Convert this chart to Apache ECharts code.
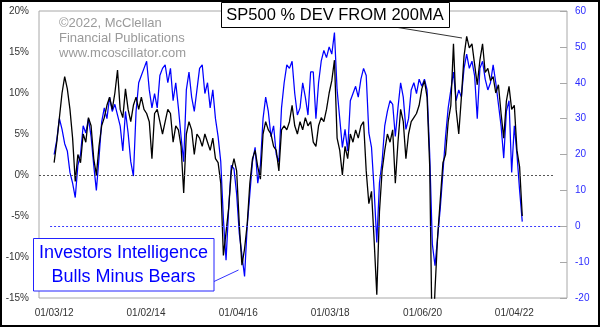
<!DOCTYPE html>
<html>
<head>
<meta charset="utf-8">
<script src="https://cdn.jsdelivr.net/npm/echarts@6/dist/echarts.min.js"></script>
<style>
  html, body { margin: 0; padding: 0; background: #fff; }
  #chart { width: 600px; height: 327px; }
</style>
</head>
<body>
<div id="chart"></div>
<script>
// S&P 500 % deviation from its 200-day moving average (left scale) against the
// Investors Intelligence bulls-minus-bears spread (right scale).
// Both series are sampled every three weeks, starting on the first session of 2012.
const sampleStart = '2012-01-03';
const sampleStepDays = 21;

// S&P 500 % above / below its 200-day MA
const spxDev = [
  // 2012
  1.5, 4.0, 7.0, 10.0, 12.0, 10.5, 8.0, 4.5, -0.8, 2.5, 1.5, 5.0, 4.0, 7.0, 6.0, 2.0, 0.0, 3.5,
  // 2013
  6.0, 7.0, 8.5, 9.5, 8.0, 10.0, 12.8, 8.0, 7.0, 10.5, 8.0, 6.5, 8.5, 9.5, 8.0, 9.5, 8.0,
  // 2014
  7.5, 6.5, 2.0, 7.5, 8.0, 6.5, 5.0, 6.5, 8.0, 7.5, 4.0, 6.0, 5.5, 3.5, -2.2, 5.0, 6.5, 5.5,
  // 2015
  2.5, 5.0, 4.5, 3.5, 5.0, 4.0, 3.0, 4.5, 2.0, 1.5, -1.0, -9.8, -7.0, -4.0, 0.5, 2.0, 0.5,
  // 2016
  -6.0, -11.0, -9.0, -6.0, -1.0, 2.0, 3.0, 1.0, -0.5, 5.0, 6.5, 5.5, 5.0, 3.5, 3.0, 0.5, 5.5,
  // 2017
  6.0, 5.5, 6.5, 8.5, 6.0, 5.0, 6.5, 5.5, 7.0, 6.0, 6.5, 4.0, 3.5, 6.0, 7.0, 6.5, 8.0, 10.0,
  // 2018
  11.5, 14.0, 4.5, 3.0, 0.0, 3.5, 2.0, 5.0, 4.0, 5.5, 4.5, 6.0, 6.5, 0.5, -3.5, -2.0, -8.0, -14.6,
  // 2019
  -4.5, 0.5, 3.0, 5.0, 4.0, 5.5, -1.0, 4.0, 8.0, 6.5, 2.0, 5.0, 6.5, 7.0, 7.5, 8.5, 10.5,
  // 2020
  11.5, 9.5, 1.0, -22.0, -14.0, -7.5, -3.0, 1.5, 2.5, 6.5, 8.5, 16.0, 8.0, 5.0, 9.5, 14.5, 16.9,
  // 2021
  15.5, 16.0, 13.5, 11.0, 14.0, 16.0, 12.5, 13.0, 11.5, 12.0, 10.0, 11.0, 7.5, 4.5, 9.0, 10.8, 8.0,
  // 2022
  8.5, 3.0, 1.0, -5.0
];

// Investors Intelligence: % bulls minus % bears
const iiBullsMinusBears = [
  // 2012
  20, 24, 30, 27, 23, 21, 15, 12, 8, 17, 20, 28, 26, 30, 25, 17, 10, 19,
  // 2013
  29, 33, 30, 36, 32, 34, 31, 28, 21, 32, 26, 18, 14, 32, 40, 42, 44,
  // 2014
  46, 38, 33, 37, 33, 42, 44, 45, 40, 44, 35, 40, 33, 25, 18, 38, 43, 36,
  // 2015
  32, 38, 44, 45, 37, 40, 33, 38, 30, 25, 18, 2, -9.5, 5, 17, 16, 9,
  // 2016
  -2, -8, -14, 0, 9, 18, 22, 12, 17, 30, 36, 32, 25, 28, 20, 18, 33,
  // 2017
  40, 45, 44, 46, 37, 31, 33, 40, 36, 31, 43, 43, 30, 40, 46, 49, 47, 50,
  // 2018
  48, 54, 38, 30, 22, 27, 21, 35, 37, 39, 36, 41, 44, 42, 26, 22, 10, -4.5,
  // 2019
  12, 18, 28, 32, 35, 34, 25, 33, 40, 36, 27, 30, 38, 40, 37, 41, 39,
  // 2020
  41, 38, 20, -5, -11, -3, 5, 15, 25, 33, 38, 43, 35, 38, 36, 44, 48,
  // 2021
  44, 46, 42, 30, 44, 46, 41, 38, 40, 45, 40, 34, 28, 19, 32, 35, 15,
  // 2022
  28, 20, 10, 1.3
];

// Date axis
const axisStart = '2011-09-05';
const axisEnd = '2023-02-26';
const tickDates = ['2012-01-03', '2014-01-02', '2016-01-04', '2018-01-03', '2020-01-06', '2022-01-04'];
const tickLabels = ['01/03/12', '01/02/14', '01/04/16', '01/03/18', '01/06/20', '01/04/22'];

// Reference rules: zero % deviation and zero net bulls
const zeroDevRule = [axisStart, '2022-11-07'];
const zeroBullsRule = ['2011-12-02', '2023-01-03'];

const FONT = '"Liberation Sans", Arial, Helvetica, sans-serif';
const DAY = 86400000;

function parseDate(s) {
  const [y, m, d] = s.split('-').map(Number);
  return Date.UTC(y, m - 1, d);
}
function decimalYear(ms) {
  const y = new Date(ms).getUTCFullYear();
  const a = Date.UTC(y, 0, 1), b = Date.UTC(y + 1, 0, 1);
  return y + (ms - a) / (b - a);
}
const yr = s => decimalYear(parseDate(s));

const startMs = parseDate(sampleStart);
const sampleX = spxDev.map((_, i) => decimalYear(startMs + i * sampleStepDays * DAY));
const tickX = tickDates.map(yr);

const spxData = spxDev.map((v, i) => [sampleX[i], v]);
const iiData = iiBullsMinusBears.map((v, i) => [sampleX[i], v]);

function tickLabelFor(v) {
  const k = tickX.findIndex(x => Math.abs(x - v) < 1e-6);
  return k >= 0 ? tickLabels[k] : '';
}

const chart = echarts.init(document.getElementById('chart'), null, { renderer: 'canvas' });

chart.setOption({
  animation: false,
  backgroundColor: '#ffffff',
  grid: {
    left: 39, right: 33, top: 11, bottom: 29,
    show: true, borderColor: '#a8a8a8', borderWidth: 1, backgroundColor: '#ffffff'
  },
  xAxis: {
    type: 'value',
    min: yr(axisStart),
    max: yr(axisEnd),
    axisLine: { show: false },
    axisTick: { show: false },
    splitLine: { show: false },
    axisLabel: {
      customValues: tickX,
      formatter: tickLabelFor,
      color: '#333',
      fontSize: 10,
      fontFamily: FONT,
      margin: 10
    }
  },
  yAxis: [
    {
      type: 'value', position: 'left',
      min: -15, max: 20, interval: 5,
      axisLine: { show: false },
      axisTick: { show: false },
      splitLine: { show: false },
      axisLabel: { formatter: '{value}%', color: '#333', fontSize: 10, fontFamily: FONT, margin: 10 }
    },
    {
      type: 'value', position: 'right',
      min: -20, max: 60, interval: 10,
      axisLine: { show: false },
      axisTick: { show: true, inside: true, length: 7, lineStyle: { color: '#a8a8a8', width: 1 } },
      splitLine: { show: false },
      axisLabel: { color: '#2b2bff', fontSize: 10, fontFamily: FONT, margin: 8 }
    }
  ],
  series: [
    {
      name: 'Investors Intelligence Bulls Minus Bears',
      type: 'line',
      yAxisIndex: 1,
      data: iiData,
      showSymbol: false,
      symbol: 'none',
      lineStyle: { color: '#0000ff', width: 1.25 },
      z: 2,
      markLine: {
        silent: true,
        symbol: ['none', 'none'],
        label: { show: false },
        lineStyle: { type: [2, 2], color: '#3a3aff', width: 1 },
        data: [[{ coord: [yr(zeroBullsRule[0]), 0] }, { coord: [yr(zeroBullsRule[1]), 0] }]]
      }
    },
    {
      name: 'SP500 % DEV FROM 200MA',
      type: 'line',
      yAxisIndex: 0,
      data: spxData,
      showSymbol: false,
      symbol: 'none',
      lineStyle: { color: '#000000', width: 1.3 },
      z: 3,
      markLine: {
        silent: true,
        symbol: ['none', 'none'],
        label: { show: false },
        lineStyle: { type: [2, 2], color: '#555', width: 1 },
        data: [[{ coord: [yr(zeroDevRule[0]), 0] }, { coord: [yr(zeroDevRule[1]), 0] }]]
      }
    }
  ],
  graphic: [
    // outer frame
    { type: 'rect', silent: true, z: 100,
      shape: { x: 1, y: 1, width: 598, height: 325 },
      style: { fill: null, stroke: '#000', lineWidth: 2 } },
    // publisher credit
    { type: 'text', silent: true, z: 20, x: 59, y: 23,
      style: { text: '©2022, McClellan', fill: '#9a9a9a', font: '13px ' + FONT, verticalAlign: 'middle' } },
    { type: 'text', silent: true, z: 20, x: 59, y: 38,
      style: { text: 'Financial Publications', fill: '#9a9a9a', font: '13px ' + FONT, verticalAlign: 'middle' } },
    { type: 'text', silent: true, z: 20, x: 59, y: 53,
      style: { text: 'www.mcoscillator.com', fill: '#9a9a9a', font: '13px ' + FONT, verticalAlign: 'middle' } },
    // S&P series caption with pointer
    { type: 'line', silent: true, z: 49,
      shape: { x1: 398, y1: 27.5, x2: 462, y2: 38 },
      style: { stroke: '#333', lineWidth: 1 } },
    { type: 'rect', silent: true, z: 50,
      shape: { x: 221.5, y: 2.5, width: 228, height: 25 },
      style: { fill: '#fff', stroke: '#000', lineWidth: 1 } },
    { type: 'text', silent: true, z: 51, x: 335, y: 15,
      style: { text: 'SP500 % DEV FROM 200MA', fill: '#000', font: '16.5px ' + FONT, align: 'center', verticalAlign: 'middle' } },
    // sentiment series caption with pointer
    { type: 'line', silent: true, z: 49,
      shape: { x1: 214, y1: 281.5, x2: 238.5, y2: 270 },
      style: { stroke: '#3333ff', lineWidth: 1 } },
    { type: 'rect', silent: true, z: 50,
      shape: { x: 33.5, y: 238.5, width: 180.5, height: 52.5 },
      style: { fill: '#fff', stroke: '#2222ff', lineWidth: 1 } },
    { type: 'text', silent: true, z: 51, x: 123.5, y: 253.5,
      style: { text: 'Investors Intelligence', fill: '#0000ff', font: '18px ' + FONT, align: 'center', verticalAlign: 'middle' } },
    { type: 'text', silent: true, z: 51, x: 123.5, y: 277,
      style: { text: 'Bulls Minus Bears', fill: '#0000ff', font: '18px ' + FONT, align: 'center', verticalAlign: 'middle' } }
  ]
});
</script>
</body>
</html>
